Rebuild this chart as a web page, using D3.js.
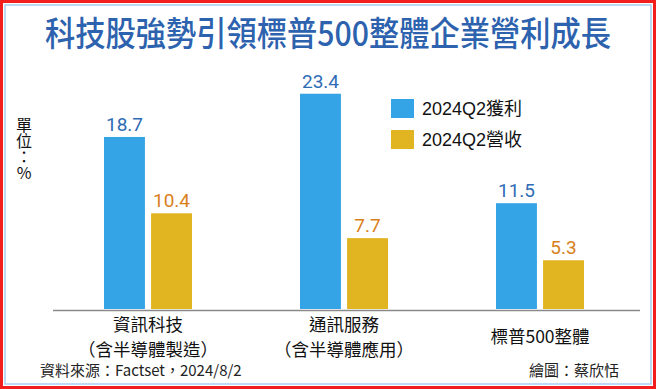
<!DOCTYPE html>
<html>
<head>
<meta charset="utf-8">
<script src="https://cdn.jsdelivr.net/npm/d3@7/dist/d3.min.js"></script>
<style>
  body { margin: 0; background: #fff; }
  svg { display: block; font-family: "Noto Sans CJK TC", "Noto Sans", sans-serif; }
</style>
</head>
<body>
<script>
var w = 656,
    h = 389;

// data
var categories = ["資訊科技", "通訊服務", "標普500整體"];
var subLabels = ["（含半導體製造）", "（含半導體應用）", ""];
var seriesNames = ["2024Q2獲利", "2024Q2營收"];
var profit = [18.7, 23.4, 11.5];
var revenue = [10.4, 7.7, 5.3];

var barColor = ['#35a4e7', '#e1b421'];
var labelColor = ['#2f6cb5', '#d9801c'];

var svg = d3.select("body")
          .append("svg")
          .attr("width", w)
          .attr("height", h);

// frame
svg.append("rect")
  .attr("x", 1.5).attr("y", 1.5)
  .attr("width", w - 3).attr("height", h - 3)
  .attr("fill", "#fff")
  .attr("stroke", "#f21d1d")
  .attr("stroke-width", 3);

svg.append("rect")
  .attr("x", 5).attr("y", 5)
  .attr("width", w - 10).attr("height", h - 10)
  .attr("fill", "none")
  .attr("stroke", "#a9cdf2")
  .attr("stroke-width", 1.5);

// title, a little condensed like the original
svg.append("text")
  .attr("transform", "translate(" + (w / 2) + ",46) scale(0.89,1)")
  .attr("text-anchor", "middle")
  .attr("font-size", 34)
  .attr("font-weight", 500)
  .attr("fill", "#2d62ae")
  .text("科技股強勢引領標普500整體企業營利成長");

// scales
var x0 = d3.scaleBand()
  .domain(categories)
  .range([50, 638]);

var x1 = d3.scaleBand()
  .domain(seriesNames)
  .range([-44, 44])
  .paddingInner(0.13);

var y = d3.scaleLinear()
  .domain([0, 25])
  .range([309, 79]);

var rows = categories.map(function(c, i) {
  return { cat: c, sub: subLabels[i], values: [profit[i], revenue[i]] };
});

var groups = svg.selectAll(".grp")
  .data(rows)
  .enter().append("g")
  .attr("class", "grp")
  .attr("transform", function(d) {
    return "translate(" + (x0(d.cat) + x0.bandwidth() / 2) + ",0)";
  });

groups.selectAll("rect")
  .data(function(d) { return d.values; })
  .enter().append("rect")
  .attr("x", function(d, i) { return x1(seriesNames[i]); })
  .attr("y", function(d) { return y(d); })
  .attr("width", x1.bandwidth())
  .attr("height", function(d) { return y(0) - y(d); })
  .attr("fill", function(d, i) { return barColor[i]; });

groups.selectAll(".val")
  .data(function(d) { return d.values; })
  .enter().append("text")
  .attr("class", "val")
  .attr("x", function(d, i) { return x1(seriesNames[i]) + x1.bandwidth() / 2; })
  .attr("y", function(d) { return y(d) - 6; })
  .attr("text-anchor", "middle")
  .attr("font-family", "Roboto, sans-serif")
  .attr("font-size", 19)
  .attr("fill", function(d, i) { return labelColor[i]; })
  .text(function(d) { return d.toFixed(1); });

// baseline
svg.append("line")
  .attr("x1", 53).attr("x2", 640)
  .attr("y1", y(0) + 1.5).attr("y2", y(0) + 1.5)
  .attr("stroke", "#8a8a8a")
  .attr("stroke-width", 1.5);

// category labels (one or two lines)
var catText = groups.append("text")
  .attr("text-anchor", "middle")
  .attr("font-size", 17.5)
  .attr("fill", "#111");

catText.append("tspan")
  .attr("x", 0)
  .attr("y", function(d) { return d.sub ? 330.5 : 343; })
  .text(function(d) { return d.cat; });

catText.filter(function(d) { return d.sub; })
  .append("tspan")
  .attr("x", 0)
  .attr("y", 355.5)
  .text(function(d) { return d.sub; });

// unit label, written vertically
svg.append("text")
  .attr("x", 24)
  .attr("y", 117)
  .attr("font-size", 16)
  .attr("fill", "#111")
  .style("writing-mode", "vertical-rl")
  .style("text-orientation", "upright")
  .text("單位：%");

// legend
var legend = svg.selectAll(".leg")
  .data(seriesNames)
  .enter().append("g")
  .attr("class", "leg")
  .attr("transform", function(d, i) { return "translate(391," + (99 + i * 31) + ")"; });

legend.append("rect")
  .attr("width", 23)
  .attr("height", 19)
  .attr("fill", function(d, i) { return barColor[i]; });

legend.append("text")
  .attr("x", 31)
  .attr("y", 16)
  .attr("font-family", "'Liberation Sans', 'Noto Sans CJK TC', sans-serif")
  .attr("font-size", 18)
  .attr("fill", "#111")
  .text(function(d) { return d; });

// footer
svg.append("text")
  .attr("x", 40)
  .attr("y", 376)
  .attr("font-size", 15)
  .attr("fill", "#222")
  .text("資料來源：Factset，2024/8/2");

svg.append("text")
  .attr("x", 619)
  .attr("y", 376)
  .attr("text-anchor", "end")
  .attr("font-size", 15)
  .attr("fill", "#222")
  .text("繪圖：蔡欣恬");
</script>
</body>
</html>
